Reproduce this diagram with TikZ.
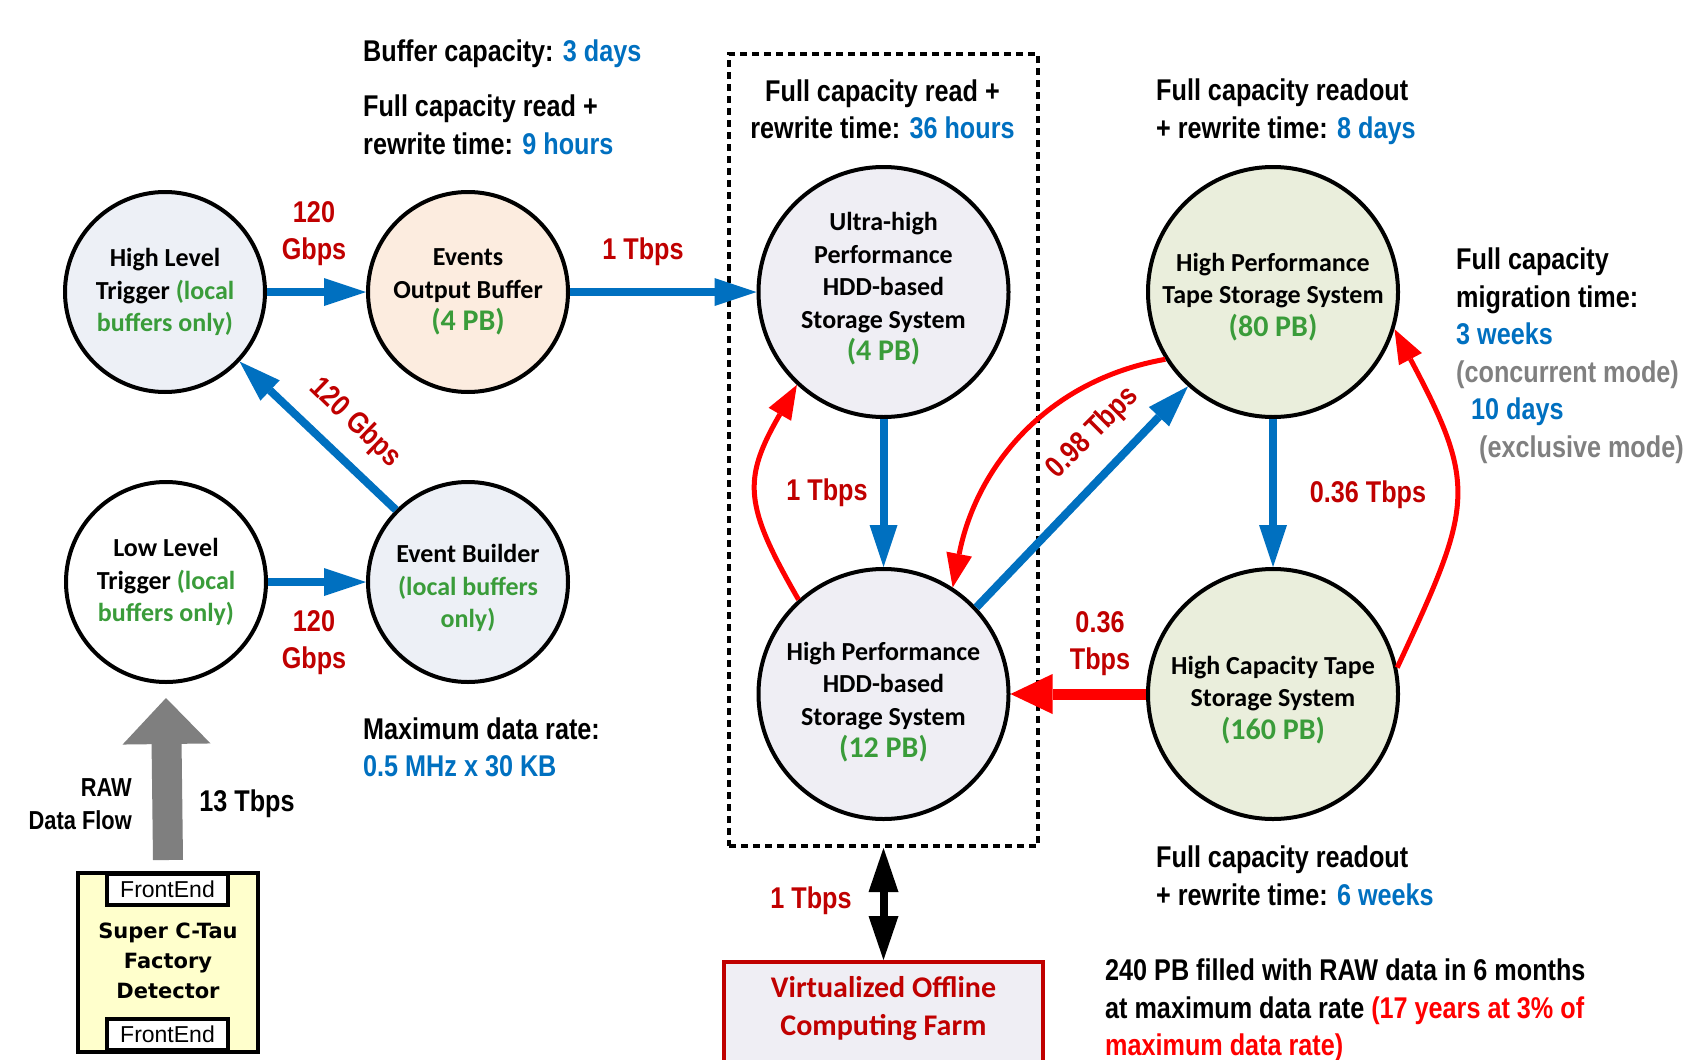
\documentclass[tikz,border=0pt]{standalone}
\usepackage{fontspec}
\setmainfont{Carlito}
\newfontfamily\labf[FakeStretch=0.84]{Liberation Sans Bold}
\newfontfamily\detf{DejaVu Sans Bold}
\newfontfamily\fef{Liberation Sans}
\usetikzlibrary{arrows.meta}
\definecolor{cblue}{HTML}{0070C0}
\definecolor{dred}{HTML}{C00000}
\definecolor{bred}{HTML}{FF0000}
\definecolor{cgreen}{HTML}{3A9C3A}
\definecolor{cgray}{HTML}{808080}
\definecolor{fillA}{HTML}{EDF0F6}
\definecolor{fillB}{HTML}{FCECDF}
\definecolor{fillC}{HTML}{EFEEF4}
\definecolor{fillD}{HTML}{EAEEDC}
\definecolor{fillE}{HTML}{FFFFCC}
\definecolor{arrgray}{HTML}{7F7F7F}
\newcommand\grn[1]{\textcolor{cgreen}{#1}}
\newcommand\blu[1]{\textcolor{cblue}{#1}}
\newcommand\gry[1]{\textcolor{cgray}{#1}}
\newcommand\capty[1]{{\fontsize{30}{33}\selectfont\color{cgreen}#1}}
\begin{document}
\begin{tikzpicture}[x=1pt,y=1pt,
  every node/.style={inner sep=0pt},
  stage/.style={circle, draw=black, line width=4pt},
  small/.style={stage, minimum size=200pt},
  big/.style={stage, minimum size=250pt},
  ctext/.style={align=center, font=\fontsize{26}{32.5}\selectfont\bfseries},
  note/.style={align=left, anchor=west, font=\fontsize{30}{37.5}\selectfont\labf},
  rate/.style={align=center, text=dred, font=\fontsize{30}{37}\selectfont\labf},
  bluearr/.style={draw=cblue, line width=8pt, -{Triangle[length=42pt,width=28pt,line width=0pt]}},
  redarr/.style={draw=bred, line width=5pt, -{Triangle[length=34pt,width=26pt,line width=0pt]}},
  redthick/.style={draw=bred, line width=11pt, -{Triangle[length=42pt,width=40pt,line width=0pt]}},
  blackarr/.style={draw=black, line width=8pt, {Triangle[length=44pt,width=30pt,line width=0pt]}-{Triangle[length=44pt,width=30pt,line width=0pt]}},
  grayarr/.style={draw=arrgray, line width=30pt, -{Triangle[length=46pt,width=88pt,line width=0pt]}},
]
\fill[white] (0,0) rectangle (1700,-1060);
\useasboundingbox (0,0) rectangle (1700,-1060);

% group box
\node[draw=black, line width=4pt, dash pattern=on 7pt off 5pt, minimum width=309pt, minimum height=792pt] (grp) at (883.5,-450) {};

% circles
\node[small, fill=fillA] (hlt) at (165,-292) {};
\node[small, fill=fillB] (eob) at (468,-292) {};
\node[small, fill=white] (llt) at (166,-582) {};
\node[small, fill=fillA] (eb) at (468,-582) {};
\node[big, fill=fillC] (uhp) at (883.5,-292) {};
\node[big, fill=fillC] (hdd) at (883.5,-694) {};
\node[big, fill=fillD] (hpt) at (1273,-292) {};
\node[big, fill=fillD] (hct) at (1273,-694) {};

\node[ctext] (hltt) at (hlt.center) {High Level\\Trigger \grn{(local}\\\grn{buffers only)}};
\node[ctext] (eobt) at (eob.center) {Events\\Output Buffer\\\capty{(4 PB)}};
\node[ctext] (lltt) at (llt.center) {Low Level\\Trigger \grn{(local}\\\grn{buffers only)}};
\node[ctext] (ebt) at ([yshift=-6pt]eb.center) {Event Builder\\\grn{(local buffers}\\\grn{only)}};
\node[ctext] (uhpt) at ([yshift=3pt]uhp.center) {Ultra-high\\Performance\\HDD-based\\Storage System\\\capty{(4 PB)}};
\node[ctext] (hddt) at ([yshift=-8pt]hdd.center) {High Performance\\HDD-based\\Storage System\\\capty{(12 PB)}};
\node[ctext] (hptt) at ([yshift=-5pt]hpt.center) {High Performance\\Tape Storage System\\\capty{(80 PB)}};
\node[ctext] (hctt) at ([yshift=-6pt]hct.center) {High Capacity Tape\\Storage System\\\capty{(160 PB)}};

% detector
\node[draw=black, line width=4pt, fill=fillE, minimum width=180pt, minimum height=179pt] (det) at (168,-962.5) {};
\node[draw=black, line width=4pt, fill=white, minimum width=121pt, minimum height=31pt, font=\fontsize{23}{26}\selectfont\fef] (fe1) at (167.5,-889.5) {FrontEnd};
\node[draw=black, line width=4pt, fill=white, minimum width=121pt, minimum height=31pt, font=\fontsize{23}{26}\selectfont\fef] (fe2) at (167.5,-1034.5) {FrontEnd};
\node[align=center, font=\fontsize{21}{30}\selectfont\detf] (dett) at (168,-961) {Super C-Tau\\Factory\\Detector};

% farm
\node[draw=dred, line width=4pt, fill=fillC, minimum width=319pt, minimum height=115pt, anchor=north] (farm) at (883.5,-960) {};
\node[align=center, text=dred, font=\fontsize{30}{38}\selectfont\bfseries] (farmt) at (883.5,-1009) {Virtualized Offline\\Computing Farm};

% connectors
\draw[bluearr] (hlt) -- (eob);
\draw[bluearr] (eob) -- (uhp);
\draw[bluearr] (eb.135) -- (hlt.-43);
\draw[bluearr] (llt) -- (eb);
\draw[bluearr] (uhp) -- (hdd);
\draw[bluearr] (hdd.43) -- (hpt.228);
\draw[bluearr] (hpt) -- (hct);
\draw[redthick] (hct) -- (hdd);
\draw[redarr] (hdd.132) to[out=120,in=240,looseness=1.3] (uhp.227);
\draw[redarr] (hpt.212) to[out=190,in=79] (hdd.57);
\draw[redarr] (hct.12) to[out=65,in=-62,looseness=1.35] (hpt.-17);
\draw[blackarr] (grp.south) -- (farm.north);
\draw[grayarr] ([yshift=11pt]det.north) -- ([yshift=-14pt]llt.south);

% rate labels
\node[rate] (r1) at (314,-233.5) {120\\Gbps};
\node[rate] (r2) at (643,-251.5) {1 Tbps};
\node[rate, rotate=-44] (r3) at (355,-423) {120 Gbps};
\node[rate] (r4) at (314,-642.5) {120\\Gbps};
\node[rate] (r5) at (827,-493) {1 Tbps};
\node[rate, rotate=45] (r6) at (1093,-433) {0.98 Tbps};
\node[rate] (r7) at (1368,-495) {0.36 Tbps};
\node[rate] (r8) at (1100,-644) {0.36\\Tbps};
\node[rate] (r9) at (811,-901) {1 Tbps};
\node[rate, text=black] (r10) at (247,-804) {13 Tbps};
\node[rate, text=black, align=right, anchor=east, font=\fontsize{26}{33}\selectfont\labf] (raw) at (132,-804) {RAW\\Data Flow};

% notes
\node[note] (n1) at (363,-54) {Buffer capacity: \blu{3 days}};
\node[note] (n2) at (363,-125) {Full capacity read +\\rewrite time: \blu{9 hours}};
\node[note, align=center, anchor=center] (n3) at (882.5,-109.5) {Full capacity read +\\rewrite time: \blu{36 hours}};
\node[note] (n4) at (1156,-111.5) {Full capacity readout\\+ rewrite time: \blu{8 days}};
\node[note] (n5) at (1456,-355.7) {Full capacity\\migration time:\\\blu{3 weeks}\\\gry{(concurrent mode)}\\\hspace*{15pt}\blu{10 days}\\\hspace*{23pt}\gry{(exclusive mode)}};
\node[note] (n6) at (363,-747.5) {Maximum data rate:\\\blu{0.5 MHz x 30 KB}};
\node[note] (n7) at (1156,-876) {Full capacity readout\\+ rewrite time: \blu{6 weeks}};
\node[note] (n8) at (1105,-1010.5) {240 PB filled with RAW data in 6 months\\at maximum data rate \textcolor{bred}{(17 years at 3\% of}\\\textcolor{bred}{maximum data rate)}};
\end{tikzpicture}
\end{document}
